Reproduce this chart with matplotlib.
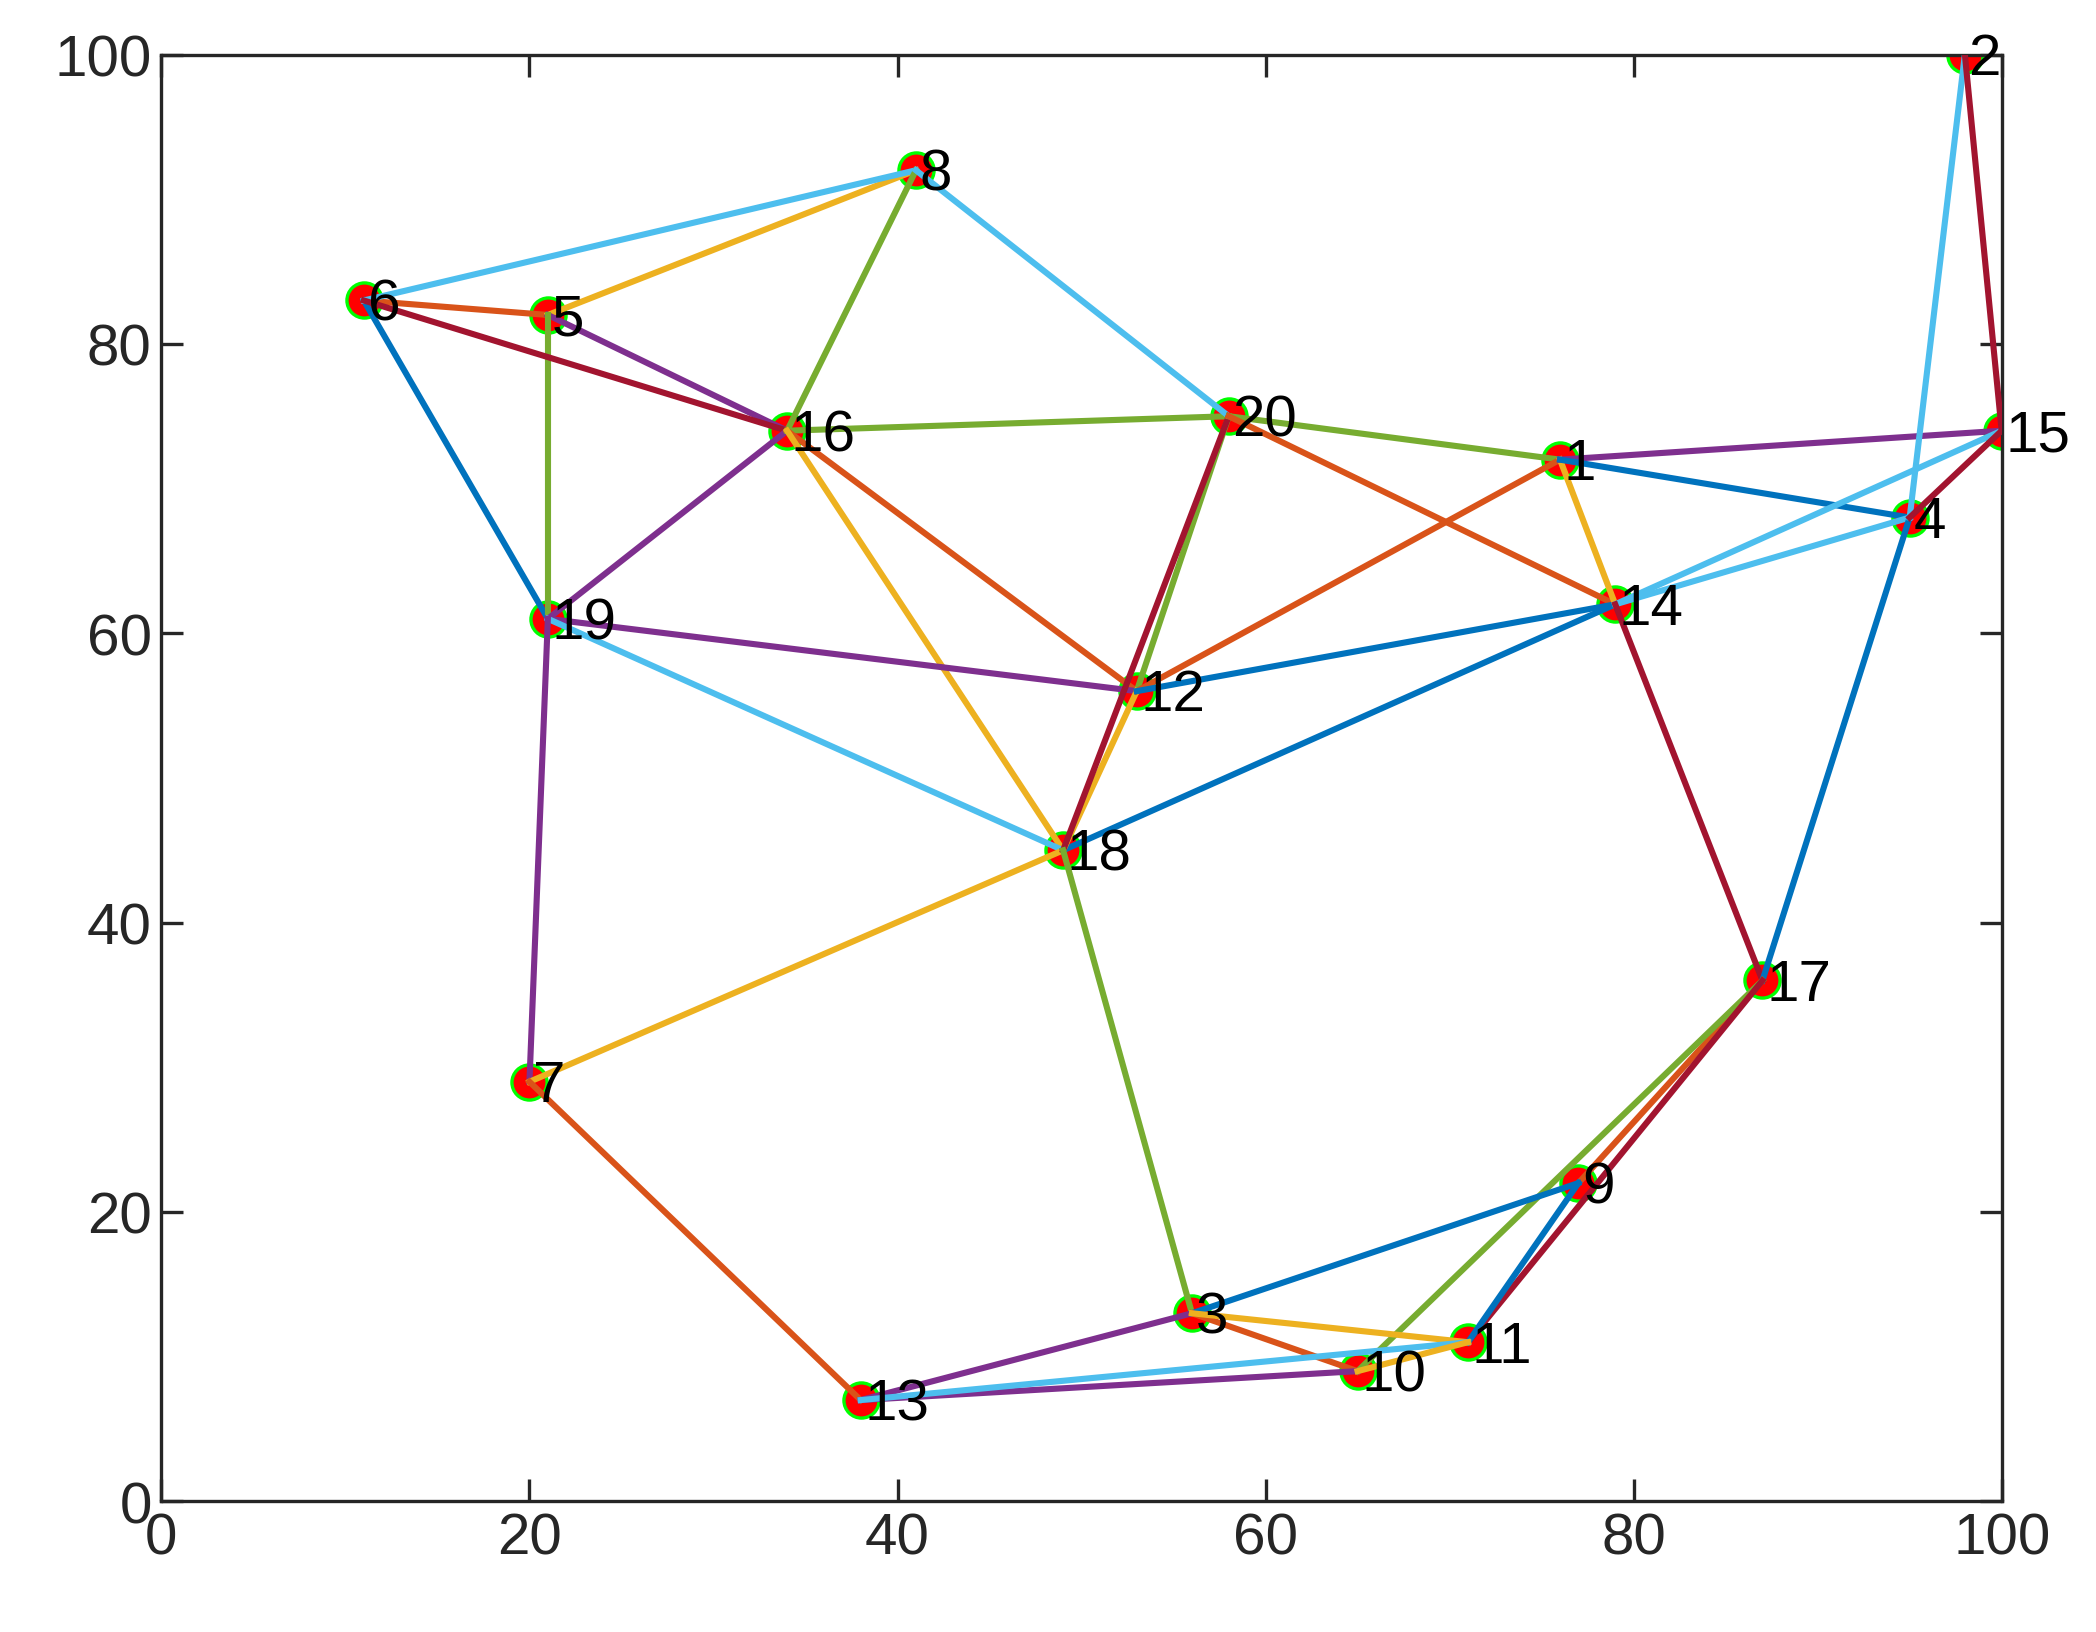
import matplotlib
matplotlib.use('Agg')
import matplotlib.pyplot as plt

plt.rcParams['font.family'] = ['Liberation Sans', 'DejaVu Sans']

# node coordinates (node i -> index i-1)
node_x = [76, 98, 56, 95, 21, 11, 20, 41, 77, 65, 71, 53, 38, 79, 100, 34, 87, 49, 21, 58]
node_y = [72, 100, 13, 68, 82, 83, 29, 92, 22, 9, 11, 56, 7, 62, 74, 74, 36, 45, 61, 75]

# edges: (from, to, colour)
edges = [
    (6, 19, '#0072BD'), (6, 5, '#D95319'), (5, 8, '#EDB120'), (5, 16, '#7E2F8E'),
    (5, 19, '#77AC30'), (6, 8, '#4DBEEE'), (6, 16, '#A2142F'), (19, 16, '#7E2F8E'),
    (16, 8, '#77AC30'), (16, 20, '#77AC30'), (8, 20, '#4DBEEE'), (16, 12, '#D95319'),
    (16, 18, '#EDB120'), (19, 12, '#7E2F8E'), (19, 18, '#4DBEEE'), (19, 7, '#7E2F8E'),
    (7, 18, '#EDB120'), (7, 13, '#D95319'), (18, 14, '#0072BD'), (12, 20, '#77AC30'),
    (18, 12, '#EDB120'), (18, 20, '#A2142F'), (18, 3, '#77AC30'), (20, 1, '#77AC30'),
    (20, 14, '#D95319'), (12, 1, '#D95319'), (12, 14, '#0072BD'), (1, 14, '#EDB120'),
    (1, 15, '#7E2F8E'), (1, 4, '#0072BD'), (14, 4, '#4DBEEE'), (14, 15, '#4DBEEE'),
    (14, 17, '#A2142F'), (4, 17, '#0072BD'), (4, 2, '#4DBEEE'), (2, 15, '#A2142F'),
    (4, 15, '#A2142F'), (17, 9, '#D95319'), (17, 10, '#77AC30'), (17, 11, '#A2142F'),
    (9, 3, '#0072BD'), (9, 11, '#0072BD'), (3, 13, '#7E2F8E'), (3, 10, '#D95319'),
    (3, 11, '#EDB120'), (13, 10, '#7E2F8E'), (13, 11, '#4DBEEE'), (10, 11, '#EDB120'),
]

fig = plt.figure(figsize=(10.48, 8.165), dpi=200)
ax = fig.add_axes([0.077, 0.08, 0.878, 0.886])

for a, b, c in edges:
    ax.plot([node_x[a - 1], node_x[b - 1]], [node_y[a - 1], node_y[b - 1]],
            color=c, linewidth=2.2, zorder=3)

ax.scatter(node_x, node_y, s=160, color='red', edgecolors='#00FF00',
           linewidths=1.2, zorder=2)

for i, (x, y) in enumerate(zip(node_x, node_y)):
    ax.text(x + 0.2, y - 0.3, str(i + 1), fontsize=21, va='center', ha='left', zorder=4)

ax.set_xlim(0, 100)
ax.set_ylim(0, 100)
ax.set_xticks(range(0, 101, 20))
ax.set_yticks(range(0, 101, 20))
ax.tick_params(direction='in', top=True, right=True, labelsize=21,
               length=8, width=1.2, colors='#262626', labelcolor='#262626')
for s in ax.spines.values():
    s.set_linewidth(1.2)
    s.set_color('#262626')

plt.savefig('out.png', dpi=200)
